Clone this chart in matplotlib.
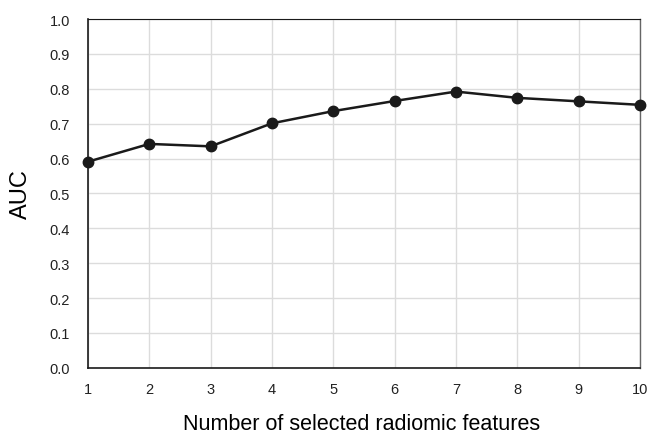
import matplotlib as mpl
import matplotlib.pyplot as plt

mpl.rcParams["font.family"] = ["Liberation Sans", "DejaVu Sans"]

n_features = [1, 2, 3, 4, 5, 6, 7, 8, 9, 10]
auc = [0.591, 0.642, 0.635, 0.701, 0.736, 0.765, 0.792, 0.774, 0.764, 0.754]
y_ticks = [0.0, 0.1, 0.2, 0.3, 0.4, 0.5, 0.6, 0.7, 0.8, 0.9, 1.0]

fig = plt.figure(figsize=(6.47, 4.35), dpi=100)
ax = fig.add_axes([0.136, 0.152, 0.853, 0.802])

ax.plot(n_features, auc, "-o", color="#1a1a1a", linewidth=1.8,
        markersize=7.5, zorder=3, clip_on=False)

ax.set_xlim(1, 10)
ax.set_ylim(0, 1)
ax.set_xticks(n_features)
ax.set_yticks(y_ticks)
ax.set_yticklabels([f"{v:.1f}" for v in y_ticks])
ax.grid(True, color="#dcdcdc", linewidth=1.0)
ax.set_axisbelow(True)
ax.tick_params(axis="both", length=0, labelsize=10.5, colors="#222222")
ax.tick_params(axis="x", pad=10)
ax.tick_params(axis="y", pad=13)

for side in ["left", "bottom", "top"]:
    ax.spines[side].set_color("#1a1a1a")
    ax.spines[side].set_linewidth(1.2)
ax.spines["right"].set_color("#666666")
ax.spines["right"].set_linewidth(1.0)
ax.spines["top"].set_linewidth(0.8)

ax.set_xlabel("Number of selected radiomic features", fontsize=15.5, va="center")
ax.xaxis.set_label_coords(0.495, -0.158)
ax.set_ylabel("AUC", fontsize=17, va="center")
ax.yaxis.set_label_coords(-0.121, 0.5)

plt.savefig("out.png", dpi=100)
